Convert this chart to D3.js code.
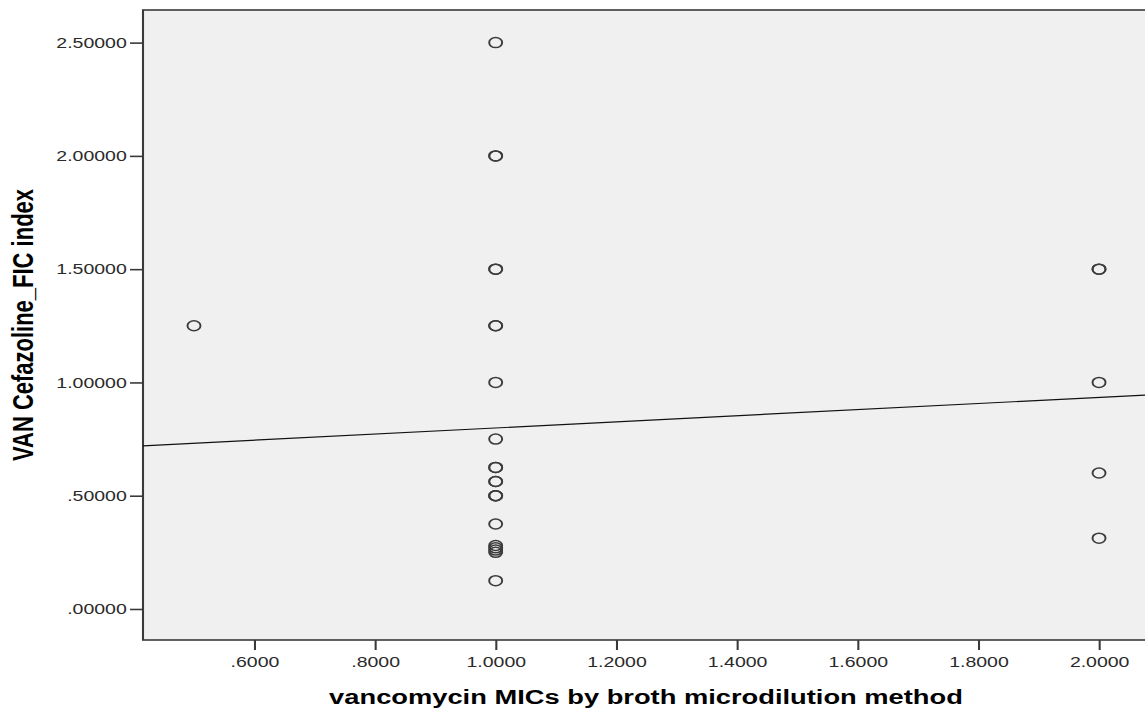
<!DOCTYPE html>
<html>
<head>
<meta charset="utf-8">
<script src="https://cdn.jsdelivr.net/npm/d3@7"></script>
<style>
  body { margin: 0; background: #fff; }
  .tick text { font-family: "Liberation Sans", Arial, sans-serif; font-size: 15px; fill: #2a2a2a; }
  .axistitle { font-family: "Liberation Sans", Arial, sans-serif; font-weight: bold; fill: #000; }
</style>
</head>
<body>
<div id="chart"></div>
<script>
// values
var micX = [0.5,
  1.0, 1.0, 1.0, 1.0, 1.0, 1.0, 1.0, 1.0, 1.0, 1.0, 1.0, 1.0, 1.0, 1.0, 1.0, 1.0, 1.0, 1.0, 1.0, 1.0, 1.0, 1.0,
  2.0, 2.0, 2.0, 2.0, 2.0];
var ficY = [1.25,
  2.5, 2.0, 2.0, 1.5, 1.5, 1.25, 1.25, 1.0, 0.75, 0.625, 0.625, 0.5625, 0.5625, 0.5, 0.5, 0.5, 0.375, 0.28, 0.27, 0.26, 0.25, 0.125,
  1.5, 1.5, 1.0, 0.6, 0.3125];
var xTicks = [0.6, 0.8, 1.0, 1.2, 1.4, 1.6, 1.8, 2.0];
var yTicks = [0, 0.5, 1.0, 1.5, 2.0, 2.5];
var fitLine = {intercept: 0.664, slope: 0.135};   // linear fit line as drawn
var xTitle = "vancomycin MICs by broth microdilution method";
var yTitle = "VAN Cefazoline_FIC index";

var w = 1145, h = 711;
var sx = 1.3;   // the original output is stretched sideways

var xScale = d3.scaleLinear()
    .domain([0.4155, 2.0762])
    .range([143 / sx, 1145 / sx]);

var yScale = d3.scaleLinear()
    .domain([-0.1369, 2.644])
    .range([640, 10]);

var svg = d3.select("#chart")
    .append("svg")
    .attr("width", w)
    .attr("height", h);

var g = svg.append("g")
    .attr("transform", "scale(" + sx + ",1)");

var x0 = xScale.range()[0], x1 = xScale.range()[1];
var y0 = yScale.range()[1], y1 = yScale.range()[0];

g.append("clipPath").attr("id", "plotclip")
  .append("rect")
    .attr("x", x0).attr("y", y0)
    .attr("width", x1 - x0).attr("height", y1 - y0);

g.append("rect")
    .attr("x", x0).attr("y", y0)
    .attr("width", x1 - x0 + 5).attr("height", y1 - y0)
    .attr("fill", "#f0f0f0")
    .attr("stroke", "#3a3a3a")
    .attr("stroke-width", 1.6);

function trimZero(s) { return s.replace(/^0\./, "."); }

var xAxis = d3.axisBottom(xScale)
    .tickValues(xTicks)
    .tickSize(10)
    .tickPadding(6)
    .tickFormat(function(d) { return trimZero(d3.format(".4f")(d)); });

var yAxis = d3.axisLeft(yScale)
    .tickValues(yTicks)
    .tickSize(10)
    .tickPadding(2.5)
    .tickFormat(function(d) { return trimZero(d3.format(".5f")(d)); });

g.append("g")
    .attr("class", "x axis")
    .attr("transform", "translate(0," + y1 + ")")
    .call(xAxis);

g.append("g")
    .attr("class", "y axis")
    .attr("transform", "translate(" + x0 + ",0)")
    .call(yAxis);

g.selectAll(".axis .domain").remove();
g.selectAll(".axis .tick line")
    .attr("stroke", "#3a3a3a")
    .attr("stroke-width", 1.6);

// fit line
var plot = g.append("g").attr("clip-path", "url(#plotclip)");
var xd = xScale.domain();
plot.append("line")
    .attr("x1", xScale(xd[0]))
    .attr("y1", yScale(fitLine.intercept + fitLine.slope * xd[0]))
    .attr("x2", xScale(xd[1]))
    .attr("y2", yScale(fitLine.intercept + fitLine.slope * xd[1]))
    .attr("stroke", "#111")
    .attr("stroke-width", 1.2);

// points
var pts = micX.map(function(d, i) { return {x: d, y: ficY[i]}; });
plot.selectAll("circle.pt")
    .data(pts)
    .enter()
    .append("circle")
    .attr("class", "pt")
    .attr("cx", function(d) { return xScale(d.x); })
    .attr("cy", function(d) { return yScale(d.y); })
    .attr("r", 5)
    .attr("fill", "none")
    .attr("stroke", "#3c3c3c")
    .attr("stroke-width", 1.5);

// axis titles
g.append("text")
    .attr("class", "axistitle")
    .attr("x", 646 / sx)
    .attr("y", 704)
    .style("font-size", "21px")
    .style("text-anchor", "middle")
    .text(xTitle);

g.append("text")
    .attr("class", "axistitle")
    .attr("transform", "translate(" + (33 / sx) + "," + ((y0 + y1) / 2) + ") rotate(-90)")
    .style("font-size", "22px")
    .style("text-anchor", "middle")
    .text(yTitle);
</script>
</body>
</html>
